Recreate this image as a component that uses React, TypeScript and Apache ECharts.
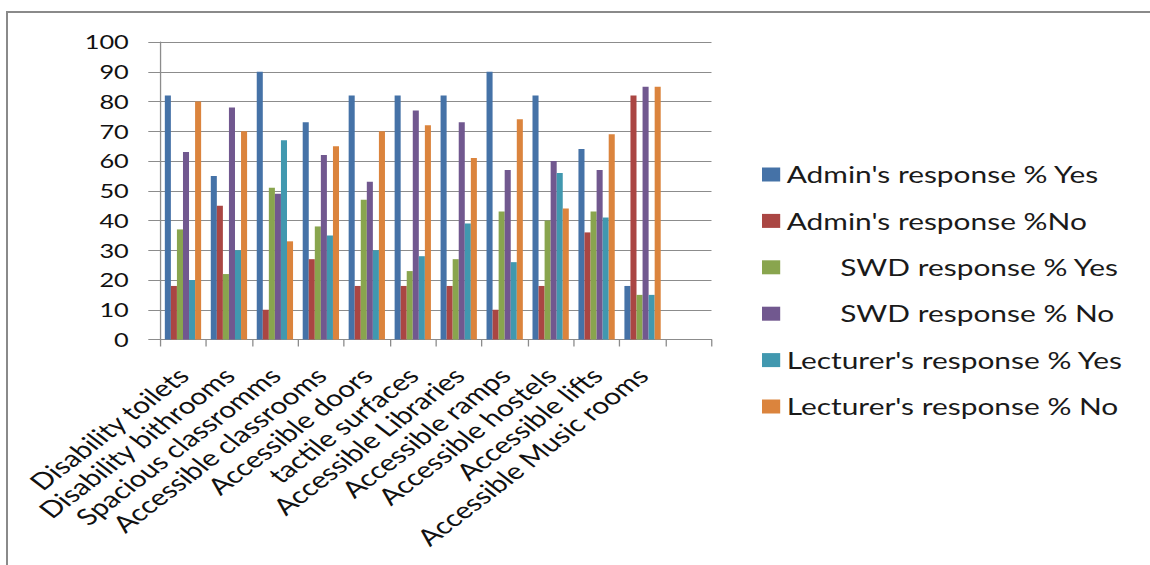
import React, { useEffect, useRef } from "react";
import * as echarts from "echarts";

const categories = [
  "Disability toilets",
  "Disability bithrooms",
  "Spacious classromms",
  "Accessible classrooms",
  "Accessible doors",
  "tactile surfaces",
  "Accessible Libraries",
  "Accessible ramps",
  "Accessible hostels",
  "Accessible lifts",
  "Accessible Music rooms",
  "",
];

const seriesNames = [
  "Admin's response % Yes",
  "Admin's response %No",
  "SWD response % Yes",
  "SWD response % No",
  "Lecturer's response % Yes",
  "Lecturer's response % No",
];

const adminYes = [82, 55, 90, 73, 82, 82, 82, 90, 82, 64, 18];
const adminNo = [18, 45, 10, 27, 18, 18, 18, 10, 18, 36, 82];
const swdYes = [37, 22, 51, 38, 47, 23, 27, 43, 40, 43, 15];
const swdNo = [63, 78, 49, 62, 53, 77, 73, 57, 60, 57, 85];
const lectYes = [20, 30, 67, 35, 30, 28, 39, 26, 56, 41, 15];
const lectNo = [80, 70, 33, 65, 70, 72, 61, 74, 44, 69, 85];

const colors = ["#4572A7", "#AA4643", "#89A54E", "#71588F", "#4198AF", "#DB843D"];

const S = 1.3; // horizontal stretch of the picture
const W = 1150 / S;
const H = 565;

export default function App() {
  const ref = useRef<HTMLDivElement>(null);

  useEffect(() => {
    if (!ref.current) return;
    const chart = echarts.init(ref.current, null, { renderer: "svg" });
    const data = [adminYes, adminNo, swdYes, swdNo, lectYes, lectNo];
    const font = "Lato";
    chart.setOption({
      animation: false,
      color: colors,
      grid: {
        left: 160 / S,
        right: W - 711 / S,
        top: 42,
        bottom: H - 339.5,
        containLabel: false,
      },
      legend: {
        orient: "vertical",
        left: 762 / S,
        top: 163,
        padding: 0,
        itemWidth: 14,
        itemHeight: 14,
        itemGap: 23.4,
        icon: "rect",
        data: seriesNames,
        formatter: (name: string) =>
          name.startsWith("SWD") ? "\u00A0".repeat(7) + name : name,
        textStyle: {
          fontFamily: font,
          fontSize: 23,
          lineHeight: 23,
          color: "#1a1a1a",
        },
      },
      xAxis: {
        type: "category",
        data: categories,
        boundaryGap: true,
        axisLine: { show: true, lineStyle: { color: "#8c8c8c", width: 1 } },
        axisTick: {
          show: true,
          interval: 0,
          length: 7,
          lineStyle: { color: "#8c8c8c" },
        },
        axisLabel: {
          interval: 0,
          rotate: 45,
          margin: 32,
          align: "right",
          verticalAlign: "middle",
          fontFamily: font,
          fontSize: 23,
          color: "#111",
        },
        splitLine: { show: false },
      },
      yAxis: {
        type: "value",
        min: 0,
        max: 100,
        interval: 10,
        axisLine: { show: true, lineStyle: { color: "#8c8c8c", width: 1 } },
        axisTick: { show: true, length: 9, lineStyle: { color: "#8c8c8c" } },
        axisLabel: {
          margin: 24,
          fontFamily: font,
          fontSize: 19.5,
          color: "#111",
        },
        splitLine: { show: true, lineStyle: { color: "#8c8c8c", width: 1 } },
      },
      series: seriesNames.map((name, i) => ({
        name,
        type: "bar",
        data: data[i],
        barGap: "0%",
        barCategoryGap: "21%",
        itemStyle: { color: colors[i] },
      })),
    });
    return () => chart.dispose();
  }, []);

  return (
    <div
      style={{
        position: "fixed",
        left: 0,
        top: 0,
        width: 1150,
        height: 565,
        overflow: "hidden",
        background: "#fff",
      }}
    >
      <div
        style={{
          position: "absolute",
          left: 6,
          top: 11,
          width: 2000,
          height: 2000,
          borderLeft: "2px solid #8a8a8a",
          borderTop: "2px solid #8a8a8a",
        }}
      />
      <div
        ref={ref}
        style={{
          position: "absolute",
          left: 0,
          top: 0,
          width: W,
          height: H,
          transform: `scaleX(${S})`,
          transformOrigin: "0 0",
        }}
      />
    </div>
  );
}
